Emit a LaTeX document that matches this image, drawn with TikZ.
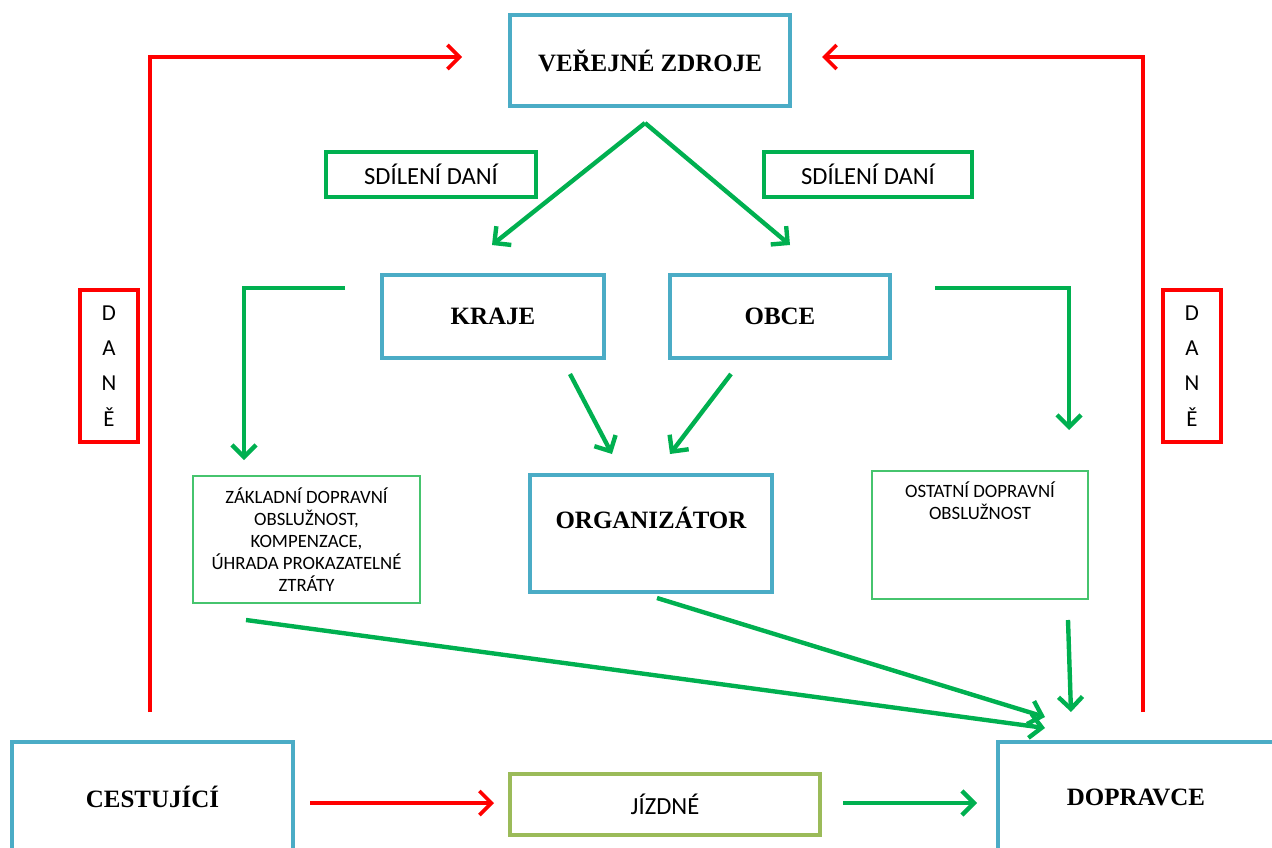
\documentclass[tikz,border=0pt]{standalone}
\usepackage{fontspec}
\setmainfont{Liberation Serif}
\newfontfamily\calib{Carlito}
\usetikzlibrary{arrows.meta}

\definecolor{boxblue}{RGB}{75,172,198}
\definecolor{arrgreen}{RGB}{0,176,80}
\definecolor{thingreen}{RGB}{70,196,110}
\definecolor{olive}{RGB}{155,187,89}
\definecolor{taxred}{RGB}{255,0,0}

\begin{document}
\begin{tikzpicture}[
            x = 0.02cm, y = -0.02cm, % one unit is one pixel of the sketch
            > = {Straight Barb[length=2.4mm, width=4.8mm]}, % arrow head style
            line join = miter
        ]

        \tikzstyle{bluebox}=[
            draw = boxblue,
            line width = 2pt,
            fill = white,
            font = \fontsize{14.2}{17}\selectfont\bfseries
        ]
        \tikzstyle{greenbox}=[
            draw = arrgreen,
            line width = 2pt,
            font = \calib\fontsize{14}{16}\selectfont
        ]
        \tikzstyle{thinbox}=[
            draw = thingreen,
            line width = 1.1pt,
            align = center,
            font = \calib\fontsize{10.7}{12.5}\selectfont
        ]
        \tikzstyle{redbox}=[
            draw = taxred,
            line width = 2pt,
            align = center,
            font = \calib\fontsize{13}{20}\selectfont
        ]
        \tikzstyle{arr}=[->, draw = arrgreen, line width = 2.5pt]
        \tikzstyle{redarr}=[->, draw = taxred, line width = 2.1pt]

        \useasboundingbox (0,0) rectangle (1272,848);
        \clip (0,0) rectangle (1272,848);

        % boxes
        \node[bluebox, minimum width=5.6cm, minimum height=1.82cm] (zdroje) at (650,60.5) {VEŘEJNÉ ZDROJE};
        \node[greenbox, minimum width=4.2cm, minimum height=0.9cm] (sdil1) at (431,174.5) {SDÍLENÍ DANÍ};
        \node[greenbox, minimum width=4.16cm, minimum height=0.9cm] (sdil2) at (868,174.5) {SDÍLENÍ DANÍ};
        \node[bluebox, minimum width=4.44cm, minimum height=1.66cm] (kraje) at (493,316.5) {KRAJE};
        \node[bluebox, minimum width=4.4cm, minimum height=1.66cm] (obce) at (780,316.5) {OBCE};
        \node[redbox, minimum width=1.16cm, minimum height=3.04cm] (dane1) at (109,366) {D\\A\\N\\Ě};
        \node[redbox, minimum width=1.16cm, minimum height=3.04cm] (dane2) at (1192,366) {D\\A\\N\\Ě};
        \node[thinbox, minimum width=4.54cm, minimum height=2.54cm] (zakladni) at (306.5,539.5)
            {ZÁKLADNÍ DOPRAVNÍ\\OBSLUŽNOST,\\KOMPENZACE,\\ÚHRADA PROKAZATELNÉ\\ZTRÁTY};
        \node[bluebox, minimum width=4.84cm, minimum height=2.34cm, text depth=0.62cm] (organizator) at (651,533.5) {ORGANIZÁTOR};
        \node[thinbox, minimum width=4.32cm, minimum height=2.56cm,
            label={[thinbox, draw=none, anchor=north, yshift=-0.1cm]north:OSTATNÍ DOPRAVNÍ\\OBSLUŽNOST}] (ostatni) at (980,535) {};
        \node[bluebox, minimum width=5.62cm, minimum height=2.2cm] (cestujici) at (152.5,797) {CESTUJÍCÍ};
        \node[bluebox, minimum width=5.52cm, minimum height=2.2cm] (dopravce) at (1136,797) {DOPRAVCE};
        \node[greenbox, draw=olive, minimum width=6.2cm, minimum height=1.22cm] (jizdne) at (665,804.5) {JÍZDNÉ};

        % free ends of the connectors
        \coordinate (c1) at (150,712);
        \coordinate (c2) at (462,57);
        \coordinate (d1) at (1143,712);
        \coordinate (d2) at (822,57);
        \coordinate (top) at (645,123);
        \coordinate (k1) at (492,245);
        \coordinate (o1) at (790,245);
        \coordinate (k2) at (345,288);
        \coordinate (k3) at (244,460);
        \coordinate (o2) at (935,288);
        \coordinate (o3) at (1069,430);
        \coordinate (k4) at (570,374);
        \coordinate (k5) at (612,454);
        \coordinate (o4) at (731,374);
        \coordinate (o5) at (670,454);
        \coordinate (z1) at (246,620);
        \coordinate (z2) at (1045,728);
        \coordinate (g1) at (657,598);
        \coordinate (g2) at (1045,717);
        \coordinate (s1) at (1068,620);
        \coordinate (s2) at (1071,712);
        \coordinate (j1) at (310,803);
        \coordinate (j2) at (494,803);
        \coordinate (j3) at (843,803);
        \coordinate (j4) at (977,803);

        \draw[redarr] (c1) |- (c2);
        \draw[redarr] (d1) |- (d2);
        \draw[arr] (top) -- (k1);
        \draw[arr] (top) -- (o1);
        \draw[arr] (k2) -| (k3);
        \draw[arr] (o2) -| (o3);
        \draw[arr] (k4) -- (k5);
        \draw[arr] (o4) -- (o5);
        \draw[arr] (z1) -- (z2);
        \draw[arr] (g1) -- (g2);
        \draw[arr] (s1) -- (s2);
        \draw[redarr] (j1) -- (j2);
        \draw[arr] (j3) -- (j4);
    \end{tikzpicture}
\end{document}
